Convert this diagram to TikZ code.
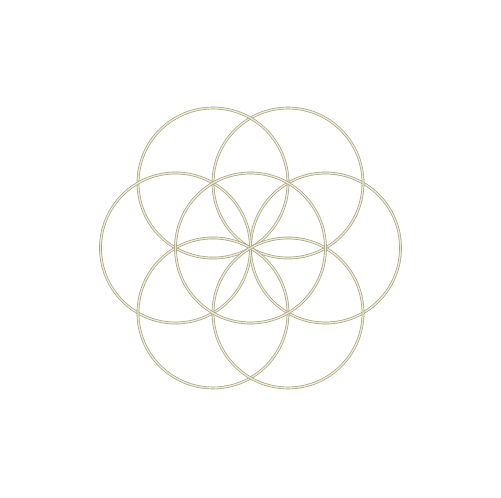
\documentclass[tikz,border=0pt]{standalone}
\usetikzlibrary{calc}
\begin{document}
\begin{tikzpicture}[x=1pt,y=1pt,
  ring/.style={draw=ringout, line width=0.7pt, double=ringin, double distance=1.3pt}]
\definecolor{ringout}{RGB}{165,162,140}
\definecolor{ringin}{RGB}{238,236,205}
\useasboundingbox (0,0) rectangle (501,498);
\fill[white] (0,0) rectangle (501,498);
\coordinate (c) at (250.5,250);
\def\rr{75}
\foreach \a in {0,60,...,300} {
  \draw[ring] ($(c)+(\a:\rr)$) circle (\rr);
}
\draw[ring] (c) circle (\rr);
\end{tikzpicture}
\end{document}
